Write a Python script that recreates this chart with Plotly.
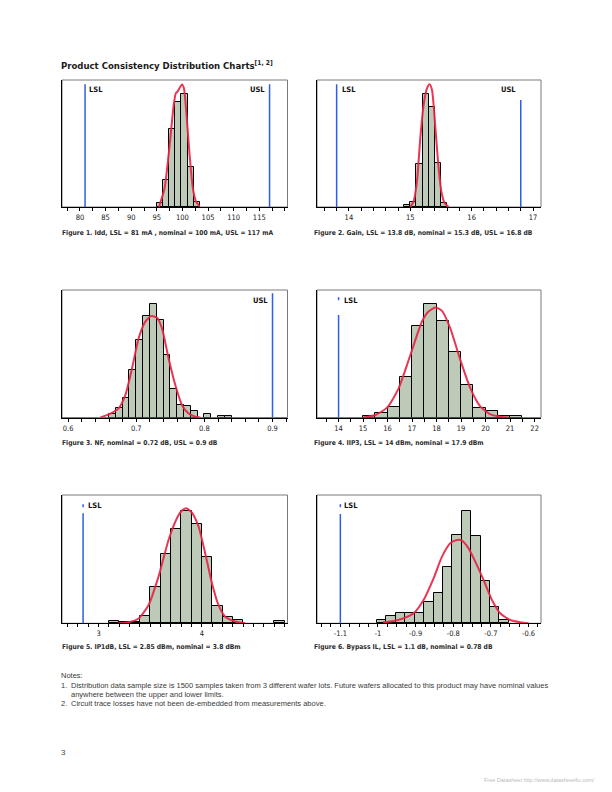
import plotly.graph_objects as go

W, H = 612, 792

# ---------------- data ----------------
# Figure 1: Idd (mA)
idd_bin_left = [95.0, 96.2, 97.4, 98.6, 99.8, 101.0, 102.2]
idd_bin_width = 1.2
idd_counts = [18, 108, 314, 423, 457, 160, 20]
idd_fit_x = [95.4, 96.5, 97.5, 98.3, 98.7, 99.1, 99.9, 100.3, 100.75, 101.4, 102.05, 102.7, 103.35]
idd_fit_y = [0, 74, 250, 413, 460, 469, 496, 480, 385, 210, 74, 20, 3]
idd_lsl, idd_usl = 81, 117
idd_ticks = [80, 85, 90, 95, 100, 105, 110, 115]
idd_ticktext = ["80", "85", "90", "95", "100", "105", "110", "115"]

# Figure 2: Gain (dB)
gain_bin_left = [14.9, 15.0, 15.1, 15.2, 15.3, 15.4, 15.5]
gain_bin_width = 0.1
gain_counts = [10, 24, 207, 544, 485, 212, 18]
gain_fit_x = [15.0, 15.054, 15.109, 15.163, 15.217, 15.272, 15.315, 15.354, 15.397, 15.452, 15.506, 15.56, 15.625]
gain_fit_y = [0, 27, 124, 332, 493, 573, 593, 565, 429, 220, 75, 19, 0]
gain_lsl, gain_usl = 13.8, 16.8
gain_ticks = [14, 15, 16, 17]
gain_ticktext = ["14", "15", "16", "17"]

# Figure 3: NF (dB)
nf_bin_left = [0.66, 0.67, 0.68, 0.69, 0.70, 0.71, 0.72, 0.73, 0.74, 0.75,
               0.76, 0.77, 0.78, 0.79, 0.80, 0.81, 0.82, 0.83]
nf_bin_width = 0.01
nf_counts = [8, 25, 48, 119, 195, 257, 287, 245, 157, 71, 31, 28, 16, 0, 8, 0, 3, 3]
nf_fit_x = [0.6474, 0.662, 0.6742, 0.684, 0.6938, 0.7035, 0.7133, 0.7217, 0.7305,
            0.7378, 0.7475, 0.7573, 0.7672, 0.7768, 0.7867, 0.794]
nf_fit_y = [0, 10, 23, 57, 124, 200, 242, 256, 252, 225, 149, 82, 31, 10, 2, 0]
nf_usl = 0.9
nf_ticks = [0.6, 0.7, 0.8, 0.9]
nf_ticktext = ["0.6", "0.7", "0.8", "0.9"]

# Figure 4: IIP3 (dBm)
iip3_bin_left = [15.0, 15.5, 16.0, 16.5, 17.0, 17.5, 18.0, 18.5, 19.0, 19.5, 20.0, 20.5, 21.0]
iip3_bin_width = 0.5
iip3_counts = [5, 13, 34, 127, 288, 358, 304, 206, 104, 30, 21, 5, 5]
iip3_fit_x = [15.02, 15.5, 15.98, 16.45, 16.93, 17.4, 17.67, 17.95, 18.22, 18.56,
              18.97, 19.38, 19.78, 20.19, 20.67, 20.94]
iip3_fit_y = [0, 8, 31, 92, 197, 302, 334, 347, 336, 281, 181, 92, 35, 10, 2, 0]
iip3_lsl = 14
iip3_ticks = [14, 15, 16, 17, 18, 19, 20, 21, 22]
iip3_ticktext = ["14", "15", "16", "17", "18", "19", "20", "21", "22"]

# Figure 5: IP1dB (dBm)
ip1_bin_left = [3.1, 3.2, 3.3, 3.4, 3.5, 3.6, 3.7, 3.8, 3.9, 4.0, 4.1, 4.2, 4.3, 4.4, 4.5, 4.6, 4.7]
ip1_bin_width = 0.1
ip1_counts = [7, 4, 5, 21, 104, 200, 272, 326, 287, 192, 49, 17, 10, 0, 0, 0, 7]
ip1_fit_x = [3.193, 3.29, 3.387, 3.484, 3.58, 3.677, 3.758, 3.807, 3.848, 3.903, 3.967,
             4.032, 4.097, 4.16, 4.225, 4.322, 4.419]
ip1_fit_y = [0, 3, 14, 53, 135, 241, 304, 326, 333, 320, 280, 202, 116, 53, 19, 5, 0]
ip1_lsl = 2.85
ip1_ticks = [3, 4]
ip1_ticktext = ["3", "4"]

# Figure 6: Bypass IL (dB)
il_bin_left = [-1.0025, -0.9775, -0.9525, -0.9275, -0.9025, -0.8775, -0.8525,
               -0.8275, -0.8025, -0.7775, -0.7525, -0.7275, -0.7025, -0.6775]
il_bin_width = 0.025
il_counts = [10, 21, 32, 32, 32, 63, 90, 170, 265, 338, 262, 128, 48, 10]
il_fit_x = [-0.9867, -0.9585, -0.932, -0.9054, -0.8789, -0.8523, -0.83, -0.808, -0.79,
            -0.777, -0.7594, -0.7416, -0.7196, -0.6973, -0.6753, -0.6487, -0.6222, -0.6]
il_fit_y = [3, 7, 15, 30, 70, 135, 200, 240, 250, 248, 225, 185, 130, 70, 30, 10, 3, 0]
il_lsl = -1.1
il_ticks = [-1.1, -1.0, -0.9, -0.8, -0.7, -0.6]
il_ticktext = ["-1.1", "-1", "-0.9", "-0.8", "-0.7", "-0.6"]

captions = [
    "Figure 1. Idd, LSL = 81 mA , nominal = 100 mA, USL = 117 mA",
    "Figure 2. Gain, LSL = 13.8 dB, nominal = 15.3 dB, USL = 16.8 dB",
    "Figure 3. NF, nominal = 0.72 dB, USL = 0.9 dB",
    "Figure 4. IIP3, LSL = 14 dBm, nominal = 17.9 dBm",
    "Figure 5. IP1dB, LSL = 2.85 dBm, nominal = 3.8 dBm",
    "Figure 6. Bypass IL, LSL = 1.1 dB, nominal = 0.78 dB",
]
title_text = "Product Consistency Distribution Charts"
title_sup = "[1, 2]"
notes_lines = [
    ("Notes:", ""),
    ("1.", "Distribution data sample size is 1500 samples taken from 3 different wafer lots. Future wafers allocated to this product may have nominal values"),
    ("", "anywhere between the upper and lower limits."),
    ("2.", "Circuit trace losses have not been de-embedded from measurements above."),
]
page_number = "3"
footer = "Free Datasheet http://www.datasheet4u.com/"

# ---------------- layout / style ----------------
FC = "DejaVu Sans Condensed, Liberation Sans Narrow, Arial Narrow, sans-serif"
FN = "Liberation Sans, Arial, sans-serif"
BAR_FILL = "#bccab7"
FIT_COLOR = "rgba(232,36,68,0.92)"
SPEC_COLOR = "#2c5fe3"


def fx(p):
    return p / W


def fy(p):
    return 1 - p / H


panels = [
    dict(bl=idd_bin_left, bw=idd_bin_width, c=idd_counts, fx=idd_fit_x, fy=idd_fit_y,
         box=(62, 80, 287.5, 207), xr=[76.5, 120.5], tv=idd_ticks, tt=idd_ticktext,
         mdt=2.5, m0=0, ymax=514,
         specs=[(idd_lsl, "LSL", 0.966, 0.927, "left", 2, None),
                (idd_usl, "USL", 0.966, 0.927, "right", -3, None)]),
    dict(bl=gain_bin_left, bw=gain_bin_width, c=gain_counts, fx=gain_fit_x, fy=gain_fit_y,
         box=(317, 80, 541, 207), xr=[13.48, 17.13], tv=gain_ticks, tt=gain_ticktext,
         mdt=0.2, m0=0, ymax=613,
         specs=[(gain_lsl, "LSL", 0.966, 0.927, "left", 3, None),
                (gain_usl, "USL", 0.843, 0.927, "right", -3, None)]),
    dict(bl=nf_bin_left, bw=nf_bin_width, c=nf_counts, fx=nf_fit_x, fy=nf_fit_y,
         box=(62, 290, 287.5, 417.5), xr=[0.591, 0.922], tv=nf_ticks, tt=nf_ticktext,
         mdt=0.02, m0=0, ymax=322,
         specs=[(nf_usl, "USL", 0.974, 0.916, "right", -2.5, None)]),
    dict(bl=iip3_bin_left, bw=iip3_bin_width, c=iip3_counts, fx=iip3_fit_x, fy=iip3_fit_y,
         box=(317, 290, 541, 417.5), xr=[13.12, 22.26], tv=iip3_ticks, tt=iip3_ticktext,
         mdt=0.5, m0=0, ymax=402,
         specs=[(iip3_lsl, "LSL", 0.804, 0.92, "left", 3, (0.92, 0.966))]),
    dict(bl=ip1_bin_left, bw=ip1_bin_width, c=ip1_counts, fx=ip1_fit_x, fy=ip1_fit_y,
         box=(62, 495, 287.5, 623.3), xr=[2.646, 4.828], tv=ip1_ticks, tt=ip1_ticktext,
         mdt=0.1, m0=0, ymax=371,
         specs=[(ip1_lsl, "LSL", 0.857, 0.917, "left", 2.5, (0.905, 0.95))]),
    dict(bl=il_bin_left, bw=il_bin_width, c=il_counts, fx=il_fit_x, fy=il_fit_y,
         box=(317, 495, 541, 623.3), xr=[-1.162, -0.567], tv=il_ticks, tt=il_ticktext,
         mdt=0.025, m0=0, ymax=385,
         specs=[(il_lsl, "LSL", 0.852, 0.917, "left", 2, (0.905, 0.95))]),
]

caption_pos = [(60, 233), (312, 233), (60, 443), (312, 443), (60, 647), (312, 647)]

fig = go.Figure()
shapes = []
annotations = []
layout = {}

for i, p in enumerate(panels, start=1):
    sfx = "" if i == 1 else str(i)
    xa, ya = "x" + sfx, "y" + sfx
    xs = [l + p["bw"] / 2 for l, c in zip(p["bl"], p["c"]) if c > 0]
    ys = [c for c in p["c"] if c > 0]
    fig.add_trace(go.Bar(x=xs, y=ys, width=p["bw"], xaxis=xa, yaxis=ya,
                         marker=dict(color=BAR_FILL, line=dict(color="black", width=1)),
                         hoverinfo="skip"))
    fig.add_trace(go.Scatter(x=p["fx"], y=p["fy"], xaxis=xa, yaxis=ya, mode="lines",
                             line=dict(color=FIT_COLOR, width=2, shape="spline", smoothing=0.6),
                             hoverinfo="skip"))
    x0, y0, x1, y1 = p["box"]
    layout["xaxis" + sfx] = dict(
        domain=[fx(x0), fx(x1)], anchor=ya, range=p["xr"],
        tickmode="array", tickvals=p["tv"], ticktext=p["tt"],
        ticks="outside", ticklen=3, tickwidth=1, tickcolor="black",
        showline=True, linecolor="black", linewidth=1,
        showgrid=False, zeroline=False,
        tickfont=dict(family=FC, size=7.5, color="#222"),
        minor=dict(ticks="outside", ticklen=3, tickwidth=1, tickcolor="black",
                   dtick=p["mdt"], tick0=p["m0"], showgrid=False),
    )
    layout["yaxis" + sfx] = dict(
        domain=[fy(y1), fy(y0)], anchor=xa, range=[0, p["ymax"]],
        showticklabels=False, ticks="", showline=True, linecolor="black", linewidth=1,
        showgrid=False, zeroline=False,
    )
    shapes.append(dict(type="rect", xref=xa + " domain", yref=ya + " domain",
                       x0=0, x1=1, y0=0, y1=1, line=dict(color="#7a7a7a", width=1),
                       layer="below"))
    for (sx, lab, top, ly, anchor, shift, dots) in p["specs"]:
        shapes.append(dict(type="line", xref=xa, yref=ya + " domain", x0=sx, x1=sx,
                           y0=0, y1=top, line=dict(color=SPEC_COLOR, width=1.5)))
        if dots:
            shapes.append(dict(type="line", xref=xa, yref=ya + " domain", x0=sx, x1=sx,
                               y0=dots[0], y1=dots[1],
                               line=dict(color=SPEC_COLOR, width=1.5, dash="dot")))
        annotations.append(dict(xref=xa, yref=ya + " domain", x=sx, y=ly, text="<b>%s</b>" % lab,
                                showarrow=False, xanchor=anchor, yanchor="middle", xshift=shift,
                                font=dict(family=FC, size=7.5, color="#111")))

for (cx, cy), cap in zip(caption_pos, captions):
    annotations.append(dict(xref="paper", yref="paper", x=fx(cx), y=fy(cy), text="<b>%s</b>" % cap,
                            showarrow=False, xanchor="left", yanchor="middle",
                            font=dict(family=FC, size=6.7, color="#2a2a2a")))

annotations.append(dict(xref="paper", yref="paper", x=fx(59), y=fy(65),
                        text="<b>%s</b><sup><b>%s</b></sup>" % (title_text, title_sup),
                        showarrow=False, xanchor="left", yanchor="middle",
                        font=dict(family=FC, size=9.5, color="#1a1a1a")))

note_y = [675, 685, 694, 703]
for (num, txt), ny in zip(notes_lines, note_y):
    if num:
        annotations.append(dict(xref="paper", yref="paper", x=fx(59), y=fy(ny), text=num,
                                showarrow=False, xanchor="left", yanchor="middle",
                                font=dict(family=FN, size=7.5, color="#3a3a3a")))
    if txt:
        annotations.append(dict(xref="paper", yref="paper", x=fx(69), y=fy(ny), text=txt,
                                showarrow=False, xanchor="left", yanchor="middle",
                                font=dict(family=FN, size=7.5, color="#3a3a3a")))

annotations.append(dict(xref="paper", yref="paper", x=fx(59), y=fy(752), text=page_number,
                        showarrow=False, xanchor="left", yanchor="middle",
                        font=dict(family=FN, size=8, color="#444")))
annotations.append(dict(xref="paper", yref="paper", x=fx(597), y=fy(780), text=footer,
                        showarrow=False, xanchor="right", yanchor="middle",
                        font=dict(family=FN, size=5.5, color="#bbbbbb")))

fig.update_layout(
    width=W, height=H, margin=dict(l=0, r=0, t=0, b=0),
    paper_bgcolor="white", plot_bgcolor="white",
    showlegend=False, bargap=0, shapes=shapes, annotations=annotations,
    **layout,
)

fig.write_html("out.html")
